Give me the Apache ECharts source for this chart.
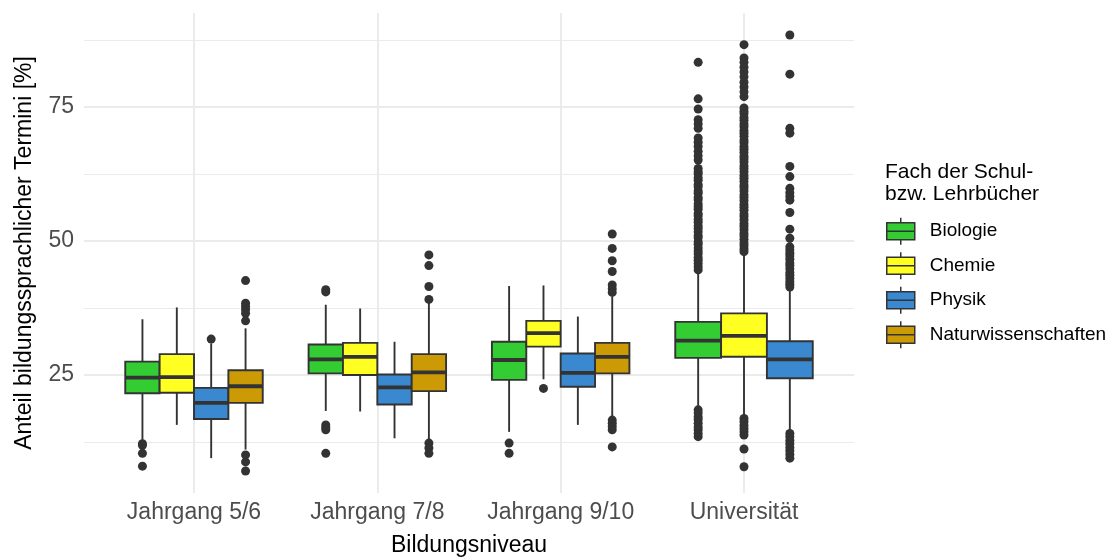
<!DOCTYPE html>
<html>
<head>
<meta charset="utf-8">
<script src="https://cdn.jsdelivr.net/npm/echarts@6/dist/echarts.min.js"></script>
<style>
  html, body { margin: 0; padding: 0; background: #ffffff; }
  #chart { width: 1110px; height: 558px; }
</style>
</head>
<body>
<div id="chart"></div>
<script>
// ---------------- data ----------------
const categories = ['Jahrgang 5/6', 'Jahrgang 7/8', 'Jahrgang 9/10', 'Universität'];
const subjects = ['Biologie', 'Chemie', 'Physik', 'Naturwissenschaften'];
const yTicks = [25, 50, 75];
const yMinorTicks = [12.5, 37.5, 62.5, 87.5];

// box stats per category: [lower whisker, Q1, median, Q3, upper whisker]
const biologieBox = [
  [12.9, 21.6, 24.5, 27.5, 35.4],
  [18.3, 25.3, 27.9, 30.7, 38.1],
  [14.4, 24.1, 27.8, 31.2, 41.6],
  [18.8, 28.2, 31.4, 34.9, 44.3]
];
const chemieBox = [
  [15.7, 21.7, 24.6, 28.9, 37.6],
  [18.2, 25.0, 28.4, 31.0, 37.4],
  [24.2, 30.3, 32.8, 35.1, 41.7],
  [17.4, 28.4, 32.3, 36.5, 47.4]
];
const physikBox = [
  [9.5, 16.8, 19.8, 22.6, 30.9],
  [13.2, 19.5, 22.7, 25.1, 31.2],
  [15.7, 22.8, 25.4, 29.0, 35.9],
  [14.4, 24.4, 27.9, 31.3, 41.0]
];
const naturBox = [
  [11.1, 19.8, 22.9, 25.9, 33.7],
  [12.9, 22.0, 25.5, 28.9, 38.7],
  [17.2, 25.3, 28.4, 31.0, 39.6],
  null
];

// outliers per category
const biologieOut = [
  [12.2, 11.9, 10.4, 8.0],
  [40.9, 40.5, 15.7, 15.2, 14.8, 10.4],
  [12.3, 10.4],
  [83.3, 76.5, 74.6, 72.6, 71.8, 71.0, 69.2, 68.4, 67.6, 66.7, 65.9, 65.1,
   63.5, 62.9, 62.5, 61.8, 61.3, 60.5, 60.1, 59.3, 58.9, 58.1, 57.7, 56.9, 56.4, 55.9,
   55.1, 54.7, 54.0, 53.5, 52.8, 52.3, 51.7, 51.0, 50.6, 49.8, 49.4, 48.7, 48.1, 47.6,
   46.9, 46.4, 45.8, 45.2, 44.6,
   18.5, 17.9, 17.2, 16.7, 16.0, 15.3, 14.8, 14.1, 13.5]
];
const chemieOut = [
  [],
  [],
  [22.5],
  [86.6, 84.1, 83.3, 82.4, 81.5, 80.6, 79.6, 78.7, 77.8, 76.9,
   74.8, 74.2, 73.7, 73.0, 72.5, 71.8, 71.3, 70.6, 70.1, 69.5, 68.8, 68.3, 67.6, 67.1,
   66.5, 65.8, 65.3, 64.7, 64.0, 63.5, 62.9, 62.2, 61.7, 61.1, 60.4, 59.9, 59.3, 58.6,
   58.1, 57.5, 56.8, 56.3, 55.7, 55.0, 54.5, 53.9, 53.2, 52.7, 52.1, 51.4, 50.9, 50.3,
   49.6, 49.1, 48.5, 48.0,
   16.9, 16.3, 15.6, 15.0, 14.4, 13.8, 11.2, 7.9]
];
const physikOut = [
  [31.7],
  [],
  [],
  [88.4, 81.1, 71.0, 70.1, 63.9, 62.0, 59.8, 59.0, 58.3, 57.6, 55.3, 52.2, 50.5,
   48.9, 48.3, 47.7, 47.2, 46.6, 45.9, 45.4, 44.8, 44.1, 43.6, 43.0, 42.4, 41.9, 41.4,
   14.1, 13.5, 12.8, 12.2, 11.5, 10.9, 10.2, 9.5]
];
const naturOut = [
  [42.6, 38.4, 37.8, 37.2, 36.5, 35.1, 10.1, 8.8, 7.1],
  [47.4, 45.4, 41.5, 39.1, 12.3, 11.4, 10.4],
  [51.3, 48.6, 46.3, 44.3, 41.8, 41.1, 40.4, 16.6, 16.0, 15.4, 14.8, 11.6],
  []
];

const boxData = [biologieBox, chemieBox, physikBox, naturBox];
const outData = [biologieOut, chemieOut, physikOut, naturOut];
const colors = ['#33CC33', '#FFFF22', '#3A88CF', '#CC9A04'];

// ---------------- chart ----------------
const DODGE = 0.75;
const EDGE = '#333333';
const FONT = 'Liberation Sans, Arial, Helvetica, sans-serif';

function slotInfo(si, ci) {
  const present = [];
  boxData.forEach((b, k) => { if (b[ci]) present.push(k); });
  return [present.indexOf(si), present.length];
}
function dodgeX(ci, slot, n) {
  const w = DODGE / n;
  return (ci + 1) - DODGE / 2 + (slot + 0.5) * w;
}

function renderBox(color) {
  return function (params, api) {
    const cat = api.value(0), slot = api.value(6), n = api.value(7);
    const w = DODGE / n;
    const cx = cat - DODGE / 2 + (slot + 0.5) * w;
    const xl = api.coord([cx - w / 2, 0])[0];
    const xr = api.coord([cx + w / 2, 0])[0];
    const xc = api.coord([cx, 0])[0];
    const yLo = api.coord([cx, api.value(1)])[1];
    const yQ1 = api.coord([cx, api.value(2)])[1];
    const yMed = api.coord([cx, api.value(3)])[1];
    const yQ3 = api.coord([cx, api.value(4)])[1];
    const yHi = api.coord([cx, api.value(5)])[1];
    const ls = { stroke: EDGE, lineWidth: 1.9 };
    return {
      type: 'group',
      children: [
        { type: 'line', shape: { x1: xc, y1: yHi, x2: xc, y2: yQ3 }, style: ls },
        { type: 'line', shape: { x1: xc, y1: yQ1, x2: xc, y2: yLo }, style: ls },
        { type: 'rect', shape: { x: xl, y: yQ3, width: xr - xl, height: yQ1 - yQ3 },
          style: { fill: color, stroke: EDGE, lineWidth: 1.9 } },
        { type: 'line', shape: { x1: xl, y1: yMed, x2: xr, y2: yMed },
          style: { stroke: EDGE, lineWidth: 3.8 } }
      ]
    };
  };
}

const series = [];
subjects.forEach((name, si) => {
  const data = [];
  boxData[si].forEach((b, ci) => {
    if (!b) return;
    const [slot, n] = slotInfo(si, ci);
    data.push([ci + 1, b[0], b[1], b[2], b[3], b[4], slot, n]);
  });
  series.push({
    type: 'custom',
    name: name,
    renderItem: renderBox(colors[si]),
    itemStyle: { color: colors[si], borderColor: EDGE },
    encode: { x: 0, y: [1, 2, 3, 4, 5] },
    data: data,
    z: 2
  });
});
subjects.forEach((name, si) => {
  const pts = [];
  outData[si].forEach((vals, ci) => {
    if (!boxData[si][ci]) return;
    const [slot, n] = slotInfo(si, ci);
    const x = dodgeX(ci, slot, n);
    vals.forEach(v => pts.push([x, v]));
  });
  series.push({
    type: 'scatter',
    name: name + ' (Ausreißer)',
    data: pts,
    symbol: 'circle',
    symbolSize: 9,
    itemStyle: { color: EDGE, opacity: 1 },
    silent: true,
    z: 3
  });
});

const LEGEND_ICON = 'path://M0,5 L28,5 L28,22 L0,22 Z M0,13.5 L28,13.5 M14,0 L14,5 M14,22 L14,27';

const option = {
  animation: false,
  backgroundColor: '#ffffff',
  textStyle: { fontFamily: FONT },
  grid: { left: 84, right: 256, top: 13, bottom: 65, containLabel: false, outerBoundsMode: 'none' },
  title: {
    text: 'Fach der Schul-\nbzw. Lehrbücher',
    left: 885,
    top: 161,
    padding: 0,
    textStyle: { fontFamily: FONT, fontSize: 21, fontWeight: 'normal', color: '#000000', lineHeight: 22 }
  },
  legend: {
    orient: 'vertical',
    left: 886,
    top: 217,
    padding: 0,
    itemWidth: 28,
    itemHeight: 28,
    itemGap: 6,
    selectedMode: false,
    textStyle: { fontFamily: FONT, fontSize: 19, color: '#000000', padding: [0, 0, 0, 10] },
    data: subjects.map((s, i) => ({
      name: s,
      icon: LEGEND_ICON,
      itemStyle: { color: colors[i], borderColor: EDGE, borderWidth: 1.5 }
    }))
  },
  xAxis: {
    type: 'value',
    min: 0.4,
    max: 4.6,
    name: 'Bildungsniveau',
    nameLocation: 'middle',
    nameGap: 41,
    nameTextStyle: { fontFamily: FONT, fontSize: 23, color: '#000000', verticalAlign: 'top' },
    axisLine: { show: false },
    axisTick: { show: false, customValues: [1, 2, 3, 4] },
    axisLabel: {
      customValues: [1, 2, 3, 4],
      formatter: v => categories[Math.round(v) - 1],
      fontFamily: FONT, fontSize: 23, color: '#4D4D4D', margin: 8
    },
    splitLine: { show: true, lineStyle: { color: '#EBEBEB', width: 2 } }
  },
  yAxis: [
    {
      type: 'value',
      min: 3,
      max: 92.5,
      name: 'Anteil bildungssprachlicher Termini [%]',
      nameLocation: 'middle',
      nameGap: 48,
      nameTextStyle: { fontFamily: FONT, fontSize: 23, color: '#000000' },
      axisLine: { show: false },
      axisTick: { show: false, customValues: yTicks },
      axisLabel: { customValues: yTicks, fontFamily: FONT, fontSize: 23, color: '#4D4D4D', margin: 10 },
      splitLine: { show: true, lineStyle: { color: '#EBEBEB', width: 2 } }
    },
    {
      type: 'value',
      min: 3,
      max: 92.5,
      position: 'left',
      axisLine: { show: false },
      axisTick: { show: false, customValues: yMinorTicks },
      axisLabel: { show: false, customValues: yMinorTicks },
      splitLine: { show: true, lineStyle: { color: '#EBEBEB', width: 1 } }
    }
  ],
  series: series
};

const chart = echarts.init(document.getElementById('chart'), null, { renderer: 'canvas' });
chart.setOption(option);
</script>
</body>
</html>
